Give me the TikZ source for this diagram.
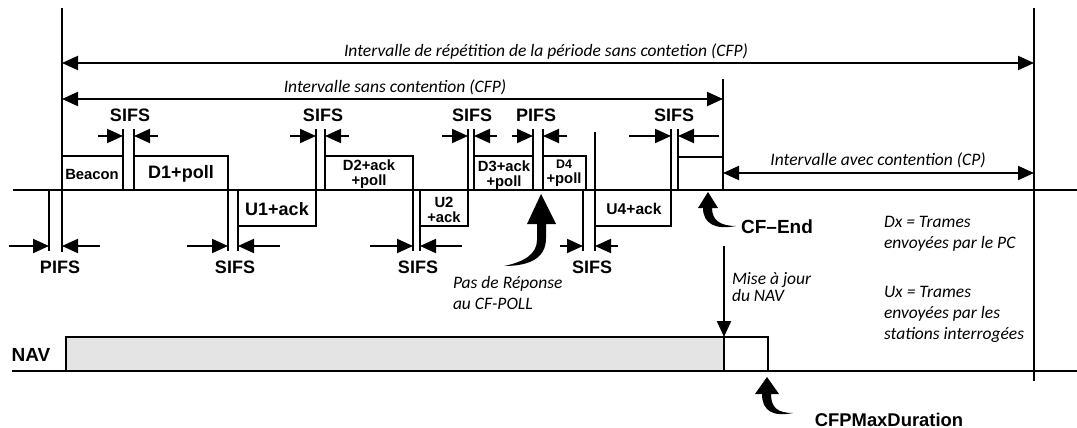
\documentclass[tikz,border=0pt]{standalone}
\usepackage{fontspec}
\setmainfont{Liberation Sans}
\newfontfamily\notefont{Carlito}
\usepackage{xcolor}
\usetikzlibrary{arrows.meta}
\definecolor{navgray}{HTML}{E4E4E4}

\begin{document}
\begin{tikzpicture}[x=0.5pt, y=-0.5pt, line width=1pt,
        tip/.style={-{Triangle[length=8pt,width=7pt]}},
        span/.style={{Triangle[length=8pt,width=7pt]}-{Triangle[length=8pt,width=7pt]}},
        lbl/.style={font=\bfseries\fontsize{9}{10}\selectfont, inner sep=0pt},
        small/.style={font=\bfseries\fontsize{7.4}{7.6}\selectfont, align=center, inner sep=0pt},
        note/.style={font=\notefont\itshape\fontsize{8.75}{10.5}\selectfont, align=left, inner sep=0pt}
    ]
    \useasboundingbox (0,0) rectangle (1077,428);

    % limits of the periods
    \coordinate (cfpstart) at (62,8);
    \coordinate (cfpend) at (723,79);
    \coordinate (repend) at (1034,8);
    \draw (cfpstart) -- (62,252);
    \draw (cfpend) -- (723,190);
    \draw (repend) -- (1034,381);
    \draw (13,190) -- (1077,190);

    \node[note] (replbl) at (546,52) {Intervalle de répétition de la période sans contetion (CFP)};
    \draw[span] (62,63) -- (1034,63);
    \node[note] (cfplbl) at (395,87) {Intervalle sans contention (CFP)};
    \draw[span] (62,99) -- (723,99);
    \node[note] (cplbl) at (878,160) {Intervalle avec contention (CP)};
    \draw[span] (723,173) -- (1034,173);

    % frames from the PC
    \draw (62,156) rectangle (123,190);
    \node[small] (beacon) at (92,174) {Beacon};
    \draw (134,156) rectangle (228,190);
    \node[lbl] (d1) at (181,174) {D1+poll};
    \draw (325,156) rectangle (413,190);
    \node[small] (d2) at (369,174) {D2+ack\\+poll};
    \draw (474,156) rectangle (533,190);
    \node[small] (d3) at (504,175) {D3+ack\\+poll};
    \draw (543,156) rectangle (586,190);
    \node[small] (d4) at (564,173) {{\fontsize{6.2}{6.5}\selectfont D4}\\+poll};
    \draw (678,157) rectangle (723,190);

    % frames from the stations
    \draw (238,190) rectangle (316,226);
    \node[lbl] (u1) at (277,209) {U1+ack};
    \draw (420,190) rectangle (468,226);
    \node[small] (u2) at (444,210) {U2\\+ack};
    \draw (595,190) rectangle (671,226);
    \node[lbl, font=\bfseries\fontsize{7.8}{9}\selectfont] (u4) at (634,209) {U4+ack};

    % gaps above the axis
    \draw (123,129) -- (123,190) (134,129) -- (134,190);
    \draw[tip] (98,136) -- (123,136); \draw[tip] (158,136) -- (134,136);
    \node[lbl] (sifs1) at (130,115) {SIFS};
    \draw (316,129) -- (316,190) (325,129) -- (325,190);
    \draw[tip] (290,136) -- (316,136); \draw[tip] (349,136) -- (325,136);
    \node[lbl] (sifs2) at (323,115) {SIFS};
    \draw (468,129) -- (468,190) (474,129) -- (474,190);
    \draw[tip] (442,136) -- (468,136); \draw[tip] (497,136) -- (474,136);
    \node[lbl] (sifs3) at (472,115) {SIFS};
    \draw (533,129) -- (533,190) (543,129) -- (543,190);
    \draw[tip] (512,136) -- (533,136); \draw[tip] (567,136) -- (543,136);
    \node[lbl] (pifs2) at (536,115) {PIFS};
    \draw (671,129) -- (671,190) (678,129) -- (678,190);
    \draw[tip] (629,136) -- (671,136); \draw[tip] (719,136) -- (678,136);
    \node[lbl] (sifs5) at (674,115) {SIFS};
    \draw (595,132) -- (595,251);

    % gaps below the axis
    \draw (49,190) -- (49,251);
    \draw[tip] (9,246) -- (49,246); \draw[tip] (100,246) -- (62,246);
    \node[lbl] (pifs1) at (60,267) {PIFS};
    \draw (228,190) -- (228,251) (238,190) -- (238,251);
    \draw[tip] (187,246) -- (228,246); \draw[tip] (280,246) -- (238,246);
    \node[lbl] (sifs6) at (235,267) {SIFS};
    \draw (413,190) -- (413,251) (420,190) -- (420,251);
    \draw[tip] (370,246) -- (413,246); \draw[tip] (462,246) -- (420,246);
    \node[lbl] (sifs7) at (418,267) {SIFS};
    \draw (583,190) -- (583,251);
    \draw[tip] (560,246) -- (583,246); \draw[tip] (618,246) -- (595,246);
    \node[lbl] (sifs8) at (592,267) {SIFS};

    % pointers
    \fill (541,194) -- (556,224) -- (546,224) -- (546,238) .. controls (546,258) and (530,266) .. (504,266)
        .. controls (524,262) and (537,254) .. (537,240) -- (537,224) -- (527,224) -- cycle;
    \node[note] (noreply) at (452,293) [anchor=west] {Pas de Réponse\\au CF-POLL};
    \fill (708,192) -- (718,208) -- (712,208) .. controls (712,220) and (720,226) .. (736,226)
        .. controls (716,230) and (703,224) .. (703,208) -- (698,208) -- cycle;
    \node[lbl, font=\bfseries\fontsize{9.5}{10}\selectfont] (cfendlbl) at (777,227) {CF–End};

    % NAV
    \node[lbl, font=\bfseries\fontsize{9.5}{10}\selectfont] (nav) at (31,355) {NAV};
    \draw[fill=navgray] (66,337) rectangle (724,371);
    \draw (724,337) rectangle (768,371);
    \draw (12,371) -- (1077,371);
    \draw[tip] (724,246) -- (724,337);
    \node[note, font=\notefont\itshape\fontsize{8.75}{8.6}\selectfont, anchor=west] (majlbl) at (731,287) {Mise à jour\\du NAV};
    \fill (767,377) -- (779,394) -- (771,394) .. controls (771,408) and (778,413) .. (793,413)
        .. controls (773,417) and (762,411) .. (762,394) -- (755,394) -- cycle;
    \node[lbl, font=\bfseries\fontsize{9.2}{10}\selectfont] (maxlbl) at (889,420) {CFPMaxDuration};

    % legend
    \node[note, anchor=west] (dxlbl) at (883,234) {Dx = Trames\\envoyées par le PC};
    \node[note, anchor=west] (uxlbl) at (883,314) {Ux = Trames\\envoyées par les\\stations interrogées};
\end{tikzpicture}
\end{document}
